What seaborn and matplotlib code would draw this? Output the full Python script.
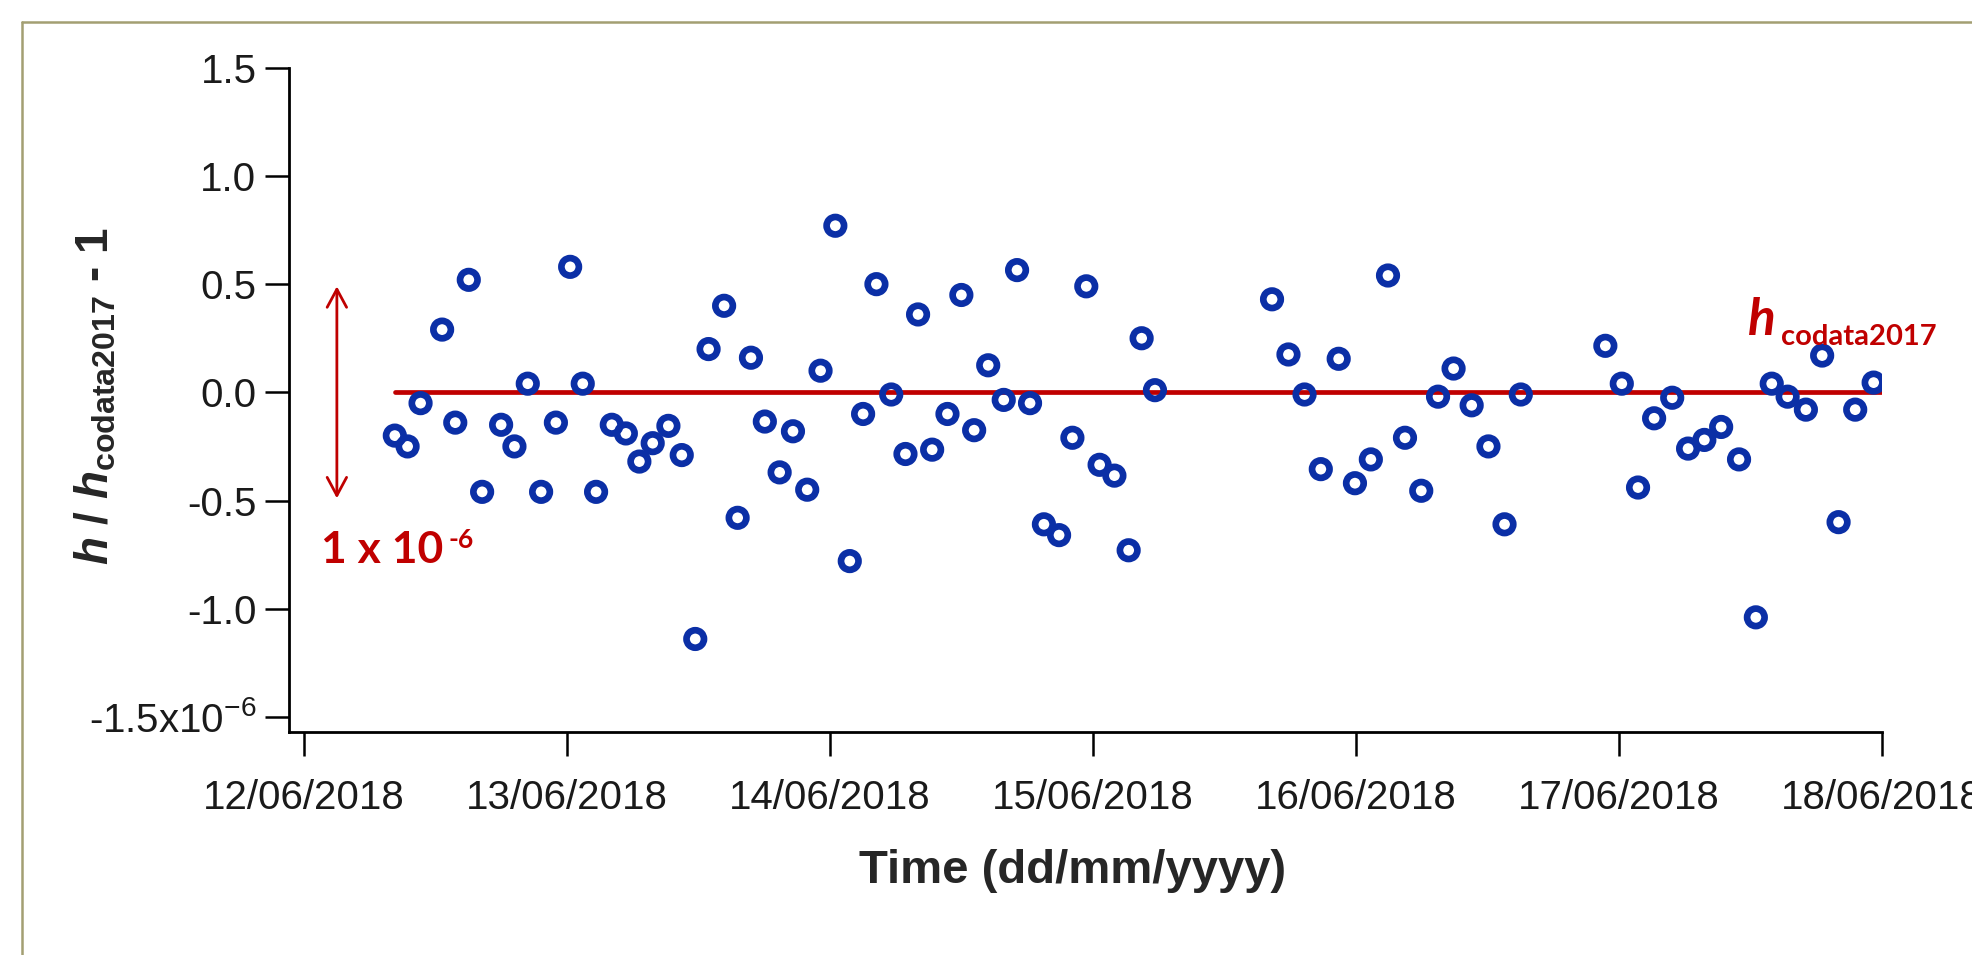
import pandas as pd
import matplotlib
matplotlib.use('Agg')
import matplotlib.pyplot as plt
import matplotlib.dates as mdates
from matplotlib.lines import Line2D
import seaborn as sns

# ── Data ─────────────────────────────────────────────────────────────────────
# measurement times and relative deviation h/h_codata2017 - 1 (units of 1e-6)
TIMES = [
    '2018-06-12 08:19', '2018-06-12 09:29', '2018-06-12 10:40', '2018-06-12 12:38',
    '2018-06-12 13:50', '2018-06-12 15:04', '2018-06-12 16:17', '2018-06-12 18:01',
    '2018-06-12 19:14', '2018-06-12 20:27', '2018-06-12 21:40', '2018-06-12 23:01',
    '2018-06-13 00:19', '2018-06-13 01:28', '2018-06-13 02:41', '2018-06-13 04:07',
    '2018-06-13 05:24', '2018-06-13 06:38', '2018-06-13 07:51', '2018-06-13 09:17',
    '2018-06-13 10:30', '2018-06-13 11:44', '2018-06-13 12:57', '2018-06-13 14:22',
    '2018-06-13 15:36', '2018-06-13 16:49', '2018-06-13 18:05', '2018-06-13 19:26',
    '2018-06-13 20:39', '2018-06-13 21:57', '2018-06-13 23:10', '2018-06-14 00:31',
    '2018-06-14 01:50', '2018-06-14 03:03', '2018-06-14 04:16', '2018-06-14 05:37',
    '2018-06-14 06:55', '2018-06-14 08:04', '2018-06-14 09:21', '2018-06-14 10:45',
    '2018-06-14 12:01', '2018-06-14 13:11', '2018-06-14 14:28', '2018-06-14 15:53',
    '2018-06-14 17:06', '2018-06-14 18:17', '2018-06-14 19:33', '2018-06-14 20:56',
    '2018-06-14 22:09', '2018-06-14 23:25', '2018-06-15 00:38', '2018-06-15 01:59',
    '2018-06-15 03:17', '2018-06-15 04:28', '2018-06-15 05:41',
    '2018-06-15 16:22', '2018-06-15 17:52', '2018-06-15 19:20', '2018-06-15 20:49',
    '2018-06-15 22:27', '2018-06-15 23:56', '2018-06-16 01:23', '2018-06-16 02:57',
    '2018-06-16 04:30', '2018-06-16 05:59', '2018-06-16 07:31', '2018-06-16 08:56',
    '2018-06-16 10:35', '2018-06-16 12:07', '2018-06-16 13:35', '2018-06-16 15:04',
    '2018-06-16 22:47', '2018-06-17 00:17', '2018-06-17 01:46', '2018-06-17 03:14',
    '2018-06-17 04:53', '2018-06-17 06:20', '2018-06-17 07:49', '2018-06-17 09:21',
    '2018-06-17 10:59', '2018-06-17 12:31', '2018-06-17 13:58', '2018-06-17 15:25',
    '2018-06-17 17:05', '2018-06-17 18:34', '2018-06-17 20:04', '2018-06-17 21:35',
    '2018-06-17 23:16',
]
DEVIATION = [
    -0.20, -0.25, -0.05, 0.29, -0.14, 0.52, -0.46, -0.15,
    -0.25, 0.04, -0.46, -0.14, 0.58, 0.04, -0.46, -0.15,
    -0.19, -0.32, -0.235, -0.155, -0.29, -1.14, 0.20, 0.40,
    -0.58, 0.16, -0.135, -0.37, -0.18, -0.45, 0.10, 0.77,
    -0.78, -0.10, 0.50, -0.01, -0.285, 0.36, -0.265, -0.10,
    0.45, -0.175, 0.125, -0.035, 0.565, -0.05, -0.61, -0.66,
    -0.21, 0.49, -0.335, -0.385, -0.73, 0.25, 0.01,
    0.43, 0.175, -0.01, -0.355, 0.155, -0.42, -0.31, 0.54,
    -0.21, -0.455, -0.02, 0.11, -0.06, -0.25, -0.61, -0.01,
    0.215, 0.04, -0.44, -0.12, -0.025, -0.26, -0.22, -0.16,
    -0.31, -1.04, 0.04, -0.02, -0.08, 0.17, -0.60, -0.08,
    0.045,
]

# reference value h_codata2017 (deviation = 0)
REF_T = ['2018-06-12 08:19', '2018-06-18 00:00']
REF_Y = [0.0, 0.0]

Y_TICKS = [-1.5, -1.0, -0.5, 0.0, 0.5, 1.0, 1.5]
Y_TICKLABELS = ['-1.5x10$^{-6}$', '-1.0', '-0.5', '0.0', '0.5', '1.0', '1.5']

# ── Style ────────────────────────────────────────────────────────────────────
BLUE  = '#0b2fa6'
RED   = '#c00000'
FRAME = '#a39f72'

sns.set_style('ticks')
plt.rcParams['font.family'] = ['Liberation Sans', 'DejaVu Sans']
plt.rcParams['axes.unicode_minus'] = False
plt.rcParams['mathtext.fontset'] = 'custom'
plt.rcParams['mathtext.rm'] = 'Liberation Sans'
plt.rcParams['mathtext.it'] = 'Liberation Sans:italic:bold'
plt.rcParams['mathtext.bf'] = 'Liberation Sans:bold'

df = pd.DataFrame({'time': pd.to_datetime(TIMES), 'dev': DEVIATION})
ref = pd.DataFrame({'time': pd.to_datetime(REF_T), 'dev': REF_Y})

fig = plt.figure(figsize=(19.72, 9.55), dpi=100)
ax = fig.add_axes([0.1466, 0.2335, 0.8076, 0.6955])

# ── Plot ─────────────────────────────────────────────────────────────────────
sns.lineplot(data=ref, x='time', y='dev', ax=ax, color=RED, lw=3.4, zorder=2)
sns.scatterplot(data=df, x='time', y='dev', ax=ax, s=12.6 ** 2, marker='o',
                facecolor='none', edgecolor=BLUE, linewidth=4.8, zorder=3)

ax.set_xlim(pd.Timestamp('2018-06-12') - pd.Timedelta(hours=1.33),
            pd.Timestamp('2018-06-18'))
ax.set_ylim(-1.57, 1.5)
ax.xaxis.set_major_locator(mdates.DayLocator())
ax.xaxis.set_major_formatter(mdates.DateFormatter('%d/%m/%Y'))
ax.set_yticks(Y_TICKS)
ax.set_yticklabels(Y_TICKLABELS)

sns.despine(ax=ax)
for side in ('left', 'bottom'):
    ax.spines[side].set_linewidth(2.0)
    ax.spines[side].set_color('black')
ax.tick_params(axis='both', length=17.5, width=1.8, labelsize=29,
               color='black', labelcolor='#1a1a1a')
ax.tick_params(axis='x', pad=16)
ax.tick_params(axis='y', pad=6)

ax.set_xlabel('Time (dd/mm/yyyy)', fontsize=34, fontweight='bold')
ax.xaxis.set_label_coords(0.492, -0.176)
ax.set_ylabel(r'$h$ / $h_{\mathbf{codata2017}}$ - 1', fontsize=33,
              fontweight='bold')
ax.yaxis.set_label_coords(-0.107, 0.505)

# ── Annotations ──────────────────────────────────────────────────────────────
trans = ax.get_yaxis_transform()
ax.annotate('', xy=(0.030, 0.49), xytext=(0.030, -0.49),
            xycoords=trans, textcoords=trans,
            arrowprops=dict(arrowstyle='<->,head_length=1.3,head_width=0.7',
                            color=RED, lw=2.0, shrinkA=0, shrinkB=0))
ax.text(0.0201, 0.255, '1 x 10', transform=ax.transAxes, color=RED,
        fontsize=32, family='Lato', fontweight='bold', va='baseline')
ax.text(0.0998, 0.277, '-6', transform=ax.transAxes, color=RED,
        fontsize=19, family='Lato', fontweight='bold', va='baseline')

ax.text(0.916, 0.597, 'h', transform=ax.transAxes, color=RED,
        fontsize=37, family='Lato', fontweight='bold', fontstyle='italic',
        va='baseline')
ax.text(0.937, 0.583, 'codata2017', transform=ax.transAxes, color=RED,
        fontsize=21, family='Lato', fontweight='bold', va='baseline')

# ── Frame ────────────────────────────────────────────────────────────────────
fig.add_artist(Line2D([0.0112, 1.0], [0.977, 0.977], color=FRAME, lw=1.8,
                      transform=fig.transFigure))
fig.add_artist(Line2D([0.0112, 0.0112], [0.0, 0.977], color=FRAME, lw=1.8,
                      transform=fig.transFigure))

fig.savefig('out.png', dpi=100)
